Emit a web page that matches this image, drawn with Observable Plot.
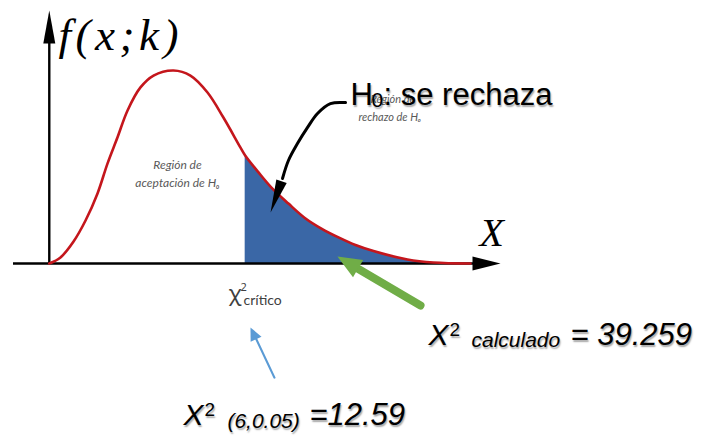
<!DOCTYPE html>
<html><head><meta charset="utf-8">
<script src="https://cdn.jsdelivr.net/npm/d3@7"></script>
<script src="https://cdn.jsdelivr.net/npm/@observablehq/plot@0.6"></script>
<style>
html,body{margin:0;padding:0;background:#fff;}
.shadow text{ text-shadow: 1px 1.5px 1.5px rgba(0,0,0,0.35); }
.fxk text{ letter-spacing: 4.5px; }
</style></head><body><div id="chart"></div>
<script>
// Curve (x in chi-square units, y in relative density)
const curveX = [0, 0.72, 1.56, 2.33, 3.10, 3.74, 4.38, 5.03, 5.86, 6.70, 7.98, 9.07, 10.17, 11.19, 12.29, 12.59, 13.45, 14.28, 15.37, 16.47, 17.49, 18.59, 19.68, 20.84, 23.02, 24.69, 27.07];
const curveY = [0, 0.024, 0.087, 0.170, 0.277, 0.395, 0.498, 0.605, 0.696, 0.743, 0.763, 0.743, 0.676, 0.577, 0.458, 0.427, 0.360, 0.300, 0.237, 0.178, 0.138, 0.103, 0.073, 0.049, 0.016, 0.004, 0];
const criticalValue = 12.59;
const calculatedValue = 39.259;
const dfLabel = "(6,0.05)";

// Black curved pointer
const blackArrowX = [19.04, 18.07, 17.24, 16.60, 15.95, 15.37, 14.99];
const blackArrowY = [0.636, 0.632, 0.593, 0.538, 0.474, 0.407, 0.336];
const blackTip = {x: 14.22, y: 0.202};
// Green pointer
const greenArrowX = [23.86, 19.87];
const greenArrowY = [-0.166, -0.022];
const greenTip = {x: 18.52, y: 0.028};
// Blue pointer
const blueArrowX = [14.47, 13.25];
const blueArrowY = [-0.451, -0.292];
const blueTip = {x: 12.93, y: -0.253};

const xDomain = [-2.3, 29], yDomain = [0, 1];
const W = 701, H = 437, mL = 13, mR = 201, mT = 10, mB = 174;
const kx = (W - mL - mR) / (xDomain[1] - xDomain[0]);
const ky = (H - mT - mB) / (yDomain[1] - yDomain[0]);
const rot = (x1, y1, x2, y2) => Math.atan2((x2 - x1) * kx, (y2 - y1) * ky) * 180 / Math.PI;

const curve = curveX.map((x, i) => ({x, y: curveY[i]}));
const tail = curve.filter(d => d.x >= criticalValue);
const pts = (xs, ys) => xs.map((x, i) => ({x, y: ys[i]}));
const black = pts(blackArrowX, blackArrowY);
const green = pts(greenArrowX, greenArrowY);
const blue = pts(blueArrowX, blueArrowY);
const last = a => a[a.length - 1];

const head = (tip, from, len, r, color) => Plot.vector([tip], {
  x: "x", y: "y", length: len, r, shape: "spike", anchor: "end",
  rotate: rot(from.x, from.y, tip.x, tip.y), fill: color, stroke: "none"
});

const txt = (label, x, y, o) => Plot.text([label], {x: () => x, y: () => y, text: d => d, textAnchor: "start", lineAnchor: "bottom", ...o});

const big = {fontFamily: "Liberation Sans, Arial, sans-serif", fill: "black", className: "shadow"};
const small = {fontFamily: "Lato, sans-serif", fontStyle: "italic", fill: "#595959"};

const chart = Plot.plot({
  width: W, height: H,
  marginLeft: mL, marginRight: mR, marginTop: mT, marginBottom: mB,
  x: {domain: xDomain, axis: null},
  y: {domain: yDomain, axis: null},
  style: {background: "white", overflow: "visible"},
  marks: [
    Plot.areaY(tail, {x: "x", y: "y", curve: "catmull-rom", fill: "#3a67a6"}),
    // axes
    Plot.ruleY([0], {x1: -2.3, x2: 27.7, stroke: "black", strokeWidth: 2.6}),
    head({x: 29.0, y: 0}, {x: 27, y: 0}, 28, 7, "black"),
    Plot.ruleX([0], {y1: 0, y2: 0.89, stroke: "black", strokeWidth: 2.4}),
    head({x: 0, y: 1.0}, {x: 0, y: 0.9}, 33, 6, "black"),
    Plot.line(curve, {x: "x", y: "y", curve: "catmull-rom", stroke: "#c4161c", strokeWidth: 2.6}),
    // axis labels
    txt("f(x;k)", 0.6, 0.842, {fontFamily: "Liberation Serif, serif", fontStyle: "italic", fontSize: 45, fill: "black", className: "fxk"}),
    txt("X", 27.65, 0.071, {fontFamily: "Liberation Serif, serif", fontStyle: "italic", fontSize: 40, fill: "black"}),
    // region labels
    txt("Región de", 8.24, 0.375, {...small, fontSize: 12, textAnchor: "middle"}),
    txt("aceptación de Hₒ", 8.24, 0.304, {...small, fontSize: 12, textAnchor: "middle"}),
    txt("Región de", 20.64, 0.636, {...small, fontSize: 11}),
    txt("rechazo de Hₒ", 19.87, 0.565, {...small, fontSize: 11}),
    // arrows
    Plot.line(black, {x: "x", y: "y", curve: "catmull-rom", stroke: "black", strokeWidth: 3}),
    head(blackTip, last(black), 33, 5.5, "black"),
    Plot.line(green, {x: "x", y: "y", stroke: "#70ad47", strokeWidth: 8}),
    head(greenTip, green[0], 24, 10, "#70ad47"),
    Plot.line(blue, {x: "x", y: "y", stroke: "#5b9bd5", strokeWidth: 2.2}),
    head(blueTip, blue[0], 13, 6, "#5b9bd5"),
    // H0 title
    txt("H", 19.36, 0.625, {...big, fontSize: 31}),
    txt("0", 19.36, 0.625, {...big, fontSize: 21, dx: 21, dy: 2}),
    txt(": se rechaza", 19.36, 0.625, {...big, fontSize: 31, dx: 33}),
    // chi critical
    txt("χ", 11.52, -0.150, {fontFamily: "Noto Sans, sans-serif", fontSize: 22, fill: "#404040"}),
    txt("2", 11.52, -0.150, {fontFamily: "Noto Sans, sans-serif", fontSize: 11, fill: "#404040", dx: 12, dy: -10}),
    txt("crítico", 11.52, -0.150, {fontFamily: "Lato, sans-serif", fontSize: 14, fill: "#404040", dx: 15, dy: 4}),
    // calculated
    txt("X", 24.37, -0.324, {...big, fontStyle: "italic", fontSize: 30}),
    txt("2", 24.37, -0.324, {...big, fontSize: 19, dx: 21, dy: -9}),
    txt("calculado", 24.37, -0.324, {...big, fontStyle: "italic", fontSize: 21, dx: 43, dy: 2}),
    txt(`= ${calculatedValue}`, 24.37, -0.324, {...big, fontStyle: "italic", fontSize: 31, dx: 142}),
    // critical value
    txt("X", 8.62, -0.640, {...big, fontStyle: "italic", fontSize: 30}),
    txt("2", 8.62, -0.640, {...big, fontSize: 19, dx: 21, dy: -9}),
    txt(dfLabel, 8.62, -0.640, {...big, fontStyle: "italic", fontSize: 21, dx: 44, dy: 3}),
    txt(`=${criticalValue}`, 8.62, -0.640, {...big, fontStyle: "italic", fontSize: 31, dx: 126})
  ]
});
document.getElementById("chart").append(chart);
</script></body></html>
